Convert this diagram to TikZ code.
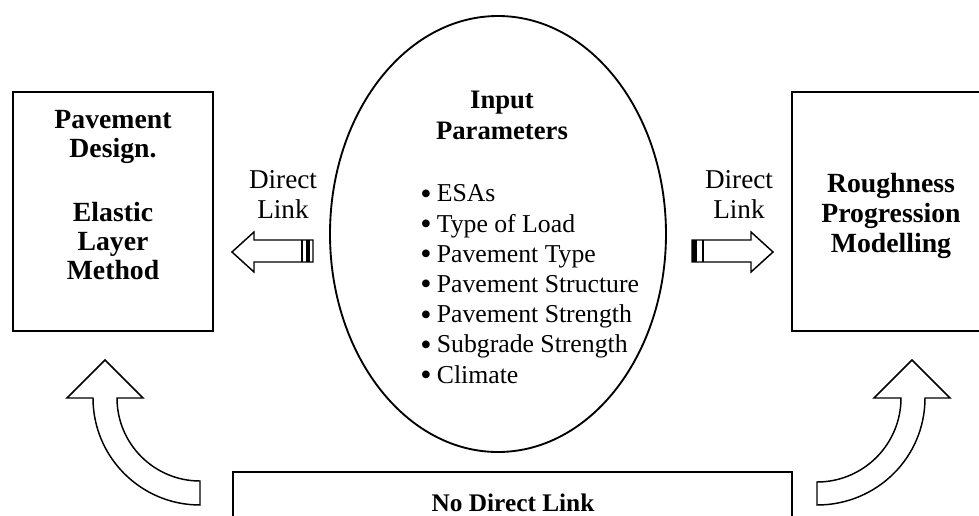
\documentclass[tikz,border=0pt]{standalone}
\usepackage{fontspec}
\setmainfont{Liberation Serif}
\usetikzlibrary{shapes.geometric}
\newcommand{\bigbul}{\raisebox{-1.8pt}{\scalebox{1.25}{\textbullet}}\hspace{4pt}}
\begin{document}
\begin{tikzpicture}[x=0.75pt,y=-0.75pt,
  boxnode/.style={draw, line width=2pt, inner sep=0pt},
  boldtext/.style={inner sep=0pt, align=center, font=\fontsize{20.8}{22.5}\selectfont\bfseries},
  plaintext/.style={inner sep=0pt, align=center, font=\fontsize{20.4}{22.5}\selectfont},
  blockarrow/.style={draw, line width=1.1pt, fill=white, line join=miter}
]
\useasboundingbox (0,0) rectangle (979,515);

% boxes
\node[boxnode, minimum width=150pt, minimum height=179.25pt] (lbox) at (113,211.5) {};
\node[boxnode, minimum width=148.5pt, minimum height=179.25pt] (rbox) at (891,211.5) {};
\node[boxnode, minimum width=419.25pt, minimum height=66pt] (bbox) at (512.5,516) {};
\node[draw, ellipse, line width=1.4pt, inner sep=0pt, minimum width=252pt, minimum height=327pt] (inp) at (498,234) {};

% texts (anchor=base is the baseline of the last line)
\node[boldtext, anchor=base, font=\fontsize{20.8}{21.75}\selectfont\bfseries] (ltext) at (113,279)
  {Pavement\\Design.\\[26.25pt]Elastic\\Layer\\Method};
\node[boldtext, anchor=base] (rtext) at (891,252) {Roughness\\Progression\\Modelling};
\node[boldtext, anchor=base, font=\fontsize{20}{23.25}\selectfont\bfseries] (itext) at (502,139) {Input\\Parameters};
\node[inner sep=0pt, anchor=base west, align=left, font=\fontsize{19.3}{22.65}\selectfont] (items) at (420,383)
  {\bigbul ESAs\\
   \bigbul Type of Load\\
   \bigbul Pavement Type\\
   \bigbul Pavement Structure\\
   \bigbul Pavement Strength\\
   \bigbul Subgrade Strength\\
   \bigbul Climate};
\node[plaintext, anchor=base] (ldl) at (283,218) {Direct\\Link};
\node[plaintext, anchor=base] (rdl) at (739,218) {Direct\\Link};
\node[boldtext, anchor=base, font=\fontsize{19}{22}\selectfont\bfseries] (ndl) at (513,511) {No Direct Link};

% straight striped arrows
\path[blockarrow] (232,252) -- (254,232) -- (254,240) -- (313,240) -- (313,262) -- (254,262) -- (254,272) -- cycle;
\draw[line width=1.1pt] (302,240) -- (302,262);
\fill (306,240) rectangle (310,262);

\path[blockarrow] (773,252) -- (751,232) -- (751,240) -- (692,240) -- (692,262) -- (751,262) -- (751,272) -- cycle;
\fill (692,240) rectangle (697,262);
\draw[line width=1.1pt] (703,240) -- (703,262);

% curved arrows
\path[blockarrow] (105,360) -- (143,398) -- (117,398)
  .. controls (117,443.8) and (154.2,481) .. (200,481) -- (200,505)
  .. controls (140.9,505) and (93,457.1) .. (93,398) -- (67,398) -- cycle;
\path[blockarrow] (912,360) -- (950,398) -- (925,398)
  .. controls (925,457.6) and (876.6,505) .. (817,505) -- (817,482)
  .. controls (863.4,482) and (901,444.4) .. (901,398) -- (874,398) -- cycle;
\end{tikzpicture}
\end{document}
